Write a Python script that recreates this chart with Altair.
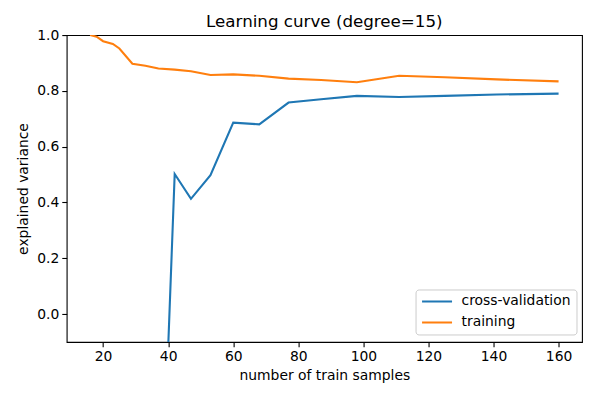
import altair as alt
import pandas as pd

train_sizes = [16, 18, 20, 23, 25, 29, 33, 37, 42, 47, 53, 60, 68, 77, 87, 98, 111, 125, 141, 160]
cv_scores = [-40.0, -25.0, -18.0, -12.0, -8.0, -5.0, -3.0, -1.05, 0.502, 0.413, 0.498, 0.686,
             0.680, 0.758, 0.770, 0.782, 0.778, 0.782, 0.787, 0.790]
train_scores = [1.0, 0.994, 0.978, 0.968, 0.952, 0.897, 0.890, 0.880, 0.876, 0.870, 0.857, 0.859,
                0.854, 0.844, 0.839, 0.831, 0.854, 0.849, 0.841, 0.834]
series_names = ["cross-validation", "training"]
series_colors = ["#1f77b4", "#ff7f0e"]
x_ticks = [20, 40, 60, 80, 100, 120, 140, 160]
y_ticks = [0.0, 0.2, 0.4, 0.6, 0.8, 1.0]

rows = []
for x, v in zip(train_sizes, cv_scores):
    rows.append({"n": x, "score": v, "series": series_names[0]})
for x, v in zip(train_sizes, train_scores):
    rows.append({"n": x, "score": v, "series": series_names[1]})
df = pd.DataFrame(rows)

FONT = "DejaVu Sans"

chart = alt.Chart(df).mark_line(clip=True, strokeWidth=2.1).encode(
    x=alt.X("n:Q",
            scale=alt.Scale(domain=[8.8, 167.2], nice=False, zero=False),
            axis=alt.Axis(values=x_ticks, title="number of train samples", format="d")),
    y=alt.Y("score:Q",
            scale=alt.Scale(domain=[-0.1, 1.0], nice=False, zero=False),
            axis=alt.Axis(values=y_ticks, title="explained variance", format=".1f")),
    color=alt.Color("series:N",
                    scale=alt.Scale(domain=series_names, range=series_colors),
                    legend=alt.Legend(title=None, orient="none", legendX=349, legendY=254.5,
                                      symbolType="stroke", symbolSize=900, symbolStrokeWidth=2.1,
                                      clipHeight=14,
                                      labelFontSize=13.9, labelFont=FONT, labelColor="black",
                                      rowPadding=7, symbolOffset=0,
                                      strokeColor="#cccccc", fillColor="white",
                                      padding=5, cornerRadius=3, labelOffset=8)),
    order=alt.Order("n:Q"),
).properties(
    width=515.5,
    height=307,
    title=alt.TitleParams("Learning curve (degree=15)", fontSize=16.7, font=FONT,
                          fontWeight="normal", color="black", offset=-3),
    autosize=alt.AutoSizeParams(type="none"),
    padding={"left": 58.7, "top": 27, "right": 10, "bottom": 50},
).configure_view(
    stroke="black", strokeWidth=1.1
).configure_axis(
    grid=False, domain=False,
    tickColor="black", tickWidth=1.1, tickSize=4.9,
    labelFont=FONT, labelFontSize=13.9, labelColor="black", labelPadding=3,
    titleFont=FONT, titleFontSize=13.9, titleColor="black", titleFontWeight="normal",
).configure_axisX(titlePadding=5).configure_axisY(titlePadding=6)

chart.save("out.html", embed_options={"renderer": "svg", "actions": False})
